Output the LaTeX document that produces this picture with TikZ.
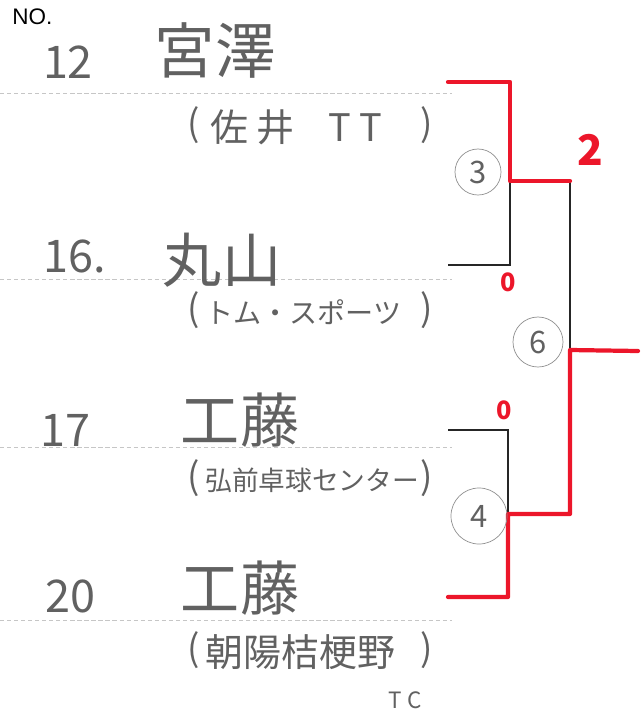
\documentclass[tikz,border=0pt]{standalone}
\usepackage{fontspec}
\setmainfont{Noto Sans CJK JP}
\newfontfamily\headfont{Liberation Sans}
\usepackage{xcolor}
\definecolor{lead}{gray}{0.38}
\definecolor{marker}{RGB}{236,22,42}
\usetikzlibrary{calc}

\begin{document}
\begin{tikzpicture}[x=0.025cm, y=-0.025cm,
  hand/.style={text=lead, inner sep=0pt},
  ruled/.style={gray!45, densely dashed, line width=0.4pt},
  bracket/.style={black!85, line width=1pt},
  win/.style={marker, line width=3pt, line cap=round, line join=round},
  rnd/.style={circle, draw=lead!70, line width=0.5pt, text=lead, inner sep=0pt, font=\fontsize{22}{22}\selectfont}]
\useasboundingbox (0,0) rectangle (642,717);
\node[anchor=north west, inner sep=0pt, font=\headfont\fontsize{16}{16}\selectfont] (no) at (12,9) {NO.};
% ruled lines
\foreach \y in {93,279,447,620}{
\draw[ruled] (0,\y) -- (452,\y);
}
% entries
\foreach \i/\x/\y/\no in {1/68/62/12, 2/75/256/16., 3/65/430/17, 4/70/596/20}{
\node[hand, font=\fontsize{32}{32}\selectfont] (num\i) at (\x,\y) {\no};
}
\node[hand, font=\fontsize{43}{43}\selectfont] (name1) at (215,50) {宮澤};
\node[hand, font=\fontsize{42}{42}\selectfont] (name2) at (222,260) {丸山};
\node[hand, font=\fontsize{42}{42}\selectfont] (name3) at (240,420) {工藤};
\node[hand, font=\fontsize{42}{42}\selectfont] (name4) at (240,588) {工藤};
% clubs
\foreach \i/\y in {1/125, 2/310, 3/478, 4/650}{
\node[hand, font=\fontsize{26}{26}\selectfont] (lp\i) at (194,\y) {(};
\node[hand, font=\fontsize{26}{26}\selectfont] (rp\i) at (427,\y) {)};
}
\node[hand, anchor=west, font=\fontsize{27}{27}\selectfont] (club1) at (210,127) {佐\hspace{6pt}井\hspace{24pt}T\hspace{6pt}T};
\node[hand, anchor=west, font=\fontsize{20}{20}\selectfont] (club2) at (205,312) {トム・スポーツ};
\node[hand, anchor=west, font=\fontsize{19}{19}\selectfont] (club3) at (205,480) {弘前卓球センター};
\node[hand, anchor=west, font=\fontsize{27}{27}\selectfont] (club4) at (205,652) {朝陽桔梗野};
\node[hand, font=\fontsize{16}{16}\selectfont] (tc) at (405,700) {T C};
% bracket
\coordinate (a1) at (448,82);
\coordinate (a2) at (448,265);
\coordinate (b1) at (448,430);
\coordinate (b2) at (448,597);
\coordinate (s1) at (510,181);
\coordinate (s2) at (508,514);
\coordinate (t1) at (570,181);
\coordinate (t2) at (570,514);
\coordinate (f) at (570,350);
\coordinate (champ) at (630,350);
\draw[bracket] (a1) -| (s1) |- (a2);
\draw[bracket] (b1) -| (s2) |- (b2);
\draw[bracket] (s1) -- (t1) -- (t2) -- (s2);
\draw[bracket] (f) -- (champ);
% winners
\draw[win] (a1) -| (s1) -- (t1);
\draw[win] (b2) -| (s2) -- (t2) -- (f) -- ($(champ)+(8,1)$);
% match numbers
\node[rnd, minimum size=1.15cm] (m3) at (478,172) {3};
\node[rnd, minimum size=1.25cm] (m6) at (538,342) {6};
\node[rnd, minimum size=1.4cm] (m4) at (479,516) {4};
% scores
\node[text=marker, inner sep=0pt, font=\bfseries\fontsize{30}{30}\selectfont] (sc1) at (590,150) {2};
\node[text=marker, inner sep=0pt, font=\bfseries\fontsize{18}{18}\selectfont] (sc2) at (508,282) {0};
\node[text=marker, inner sep=0pt, font=\bfseries\fontsize{18}{18}\selectfont] (sc3) at (504,410) {0};
\end{tikzpicture}
\end{document}
